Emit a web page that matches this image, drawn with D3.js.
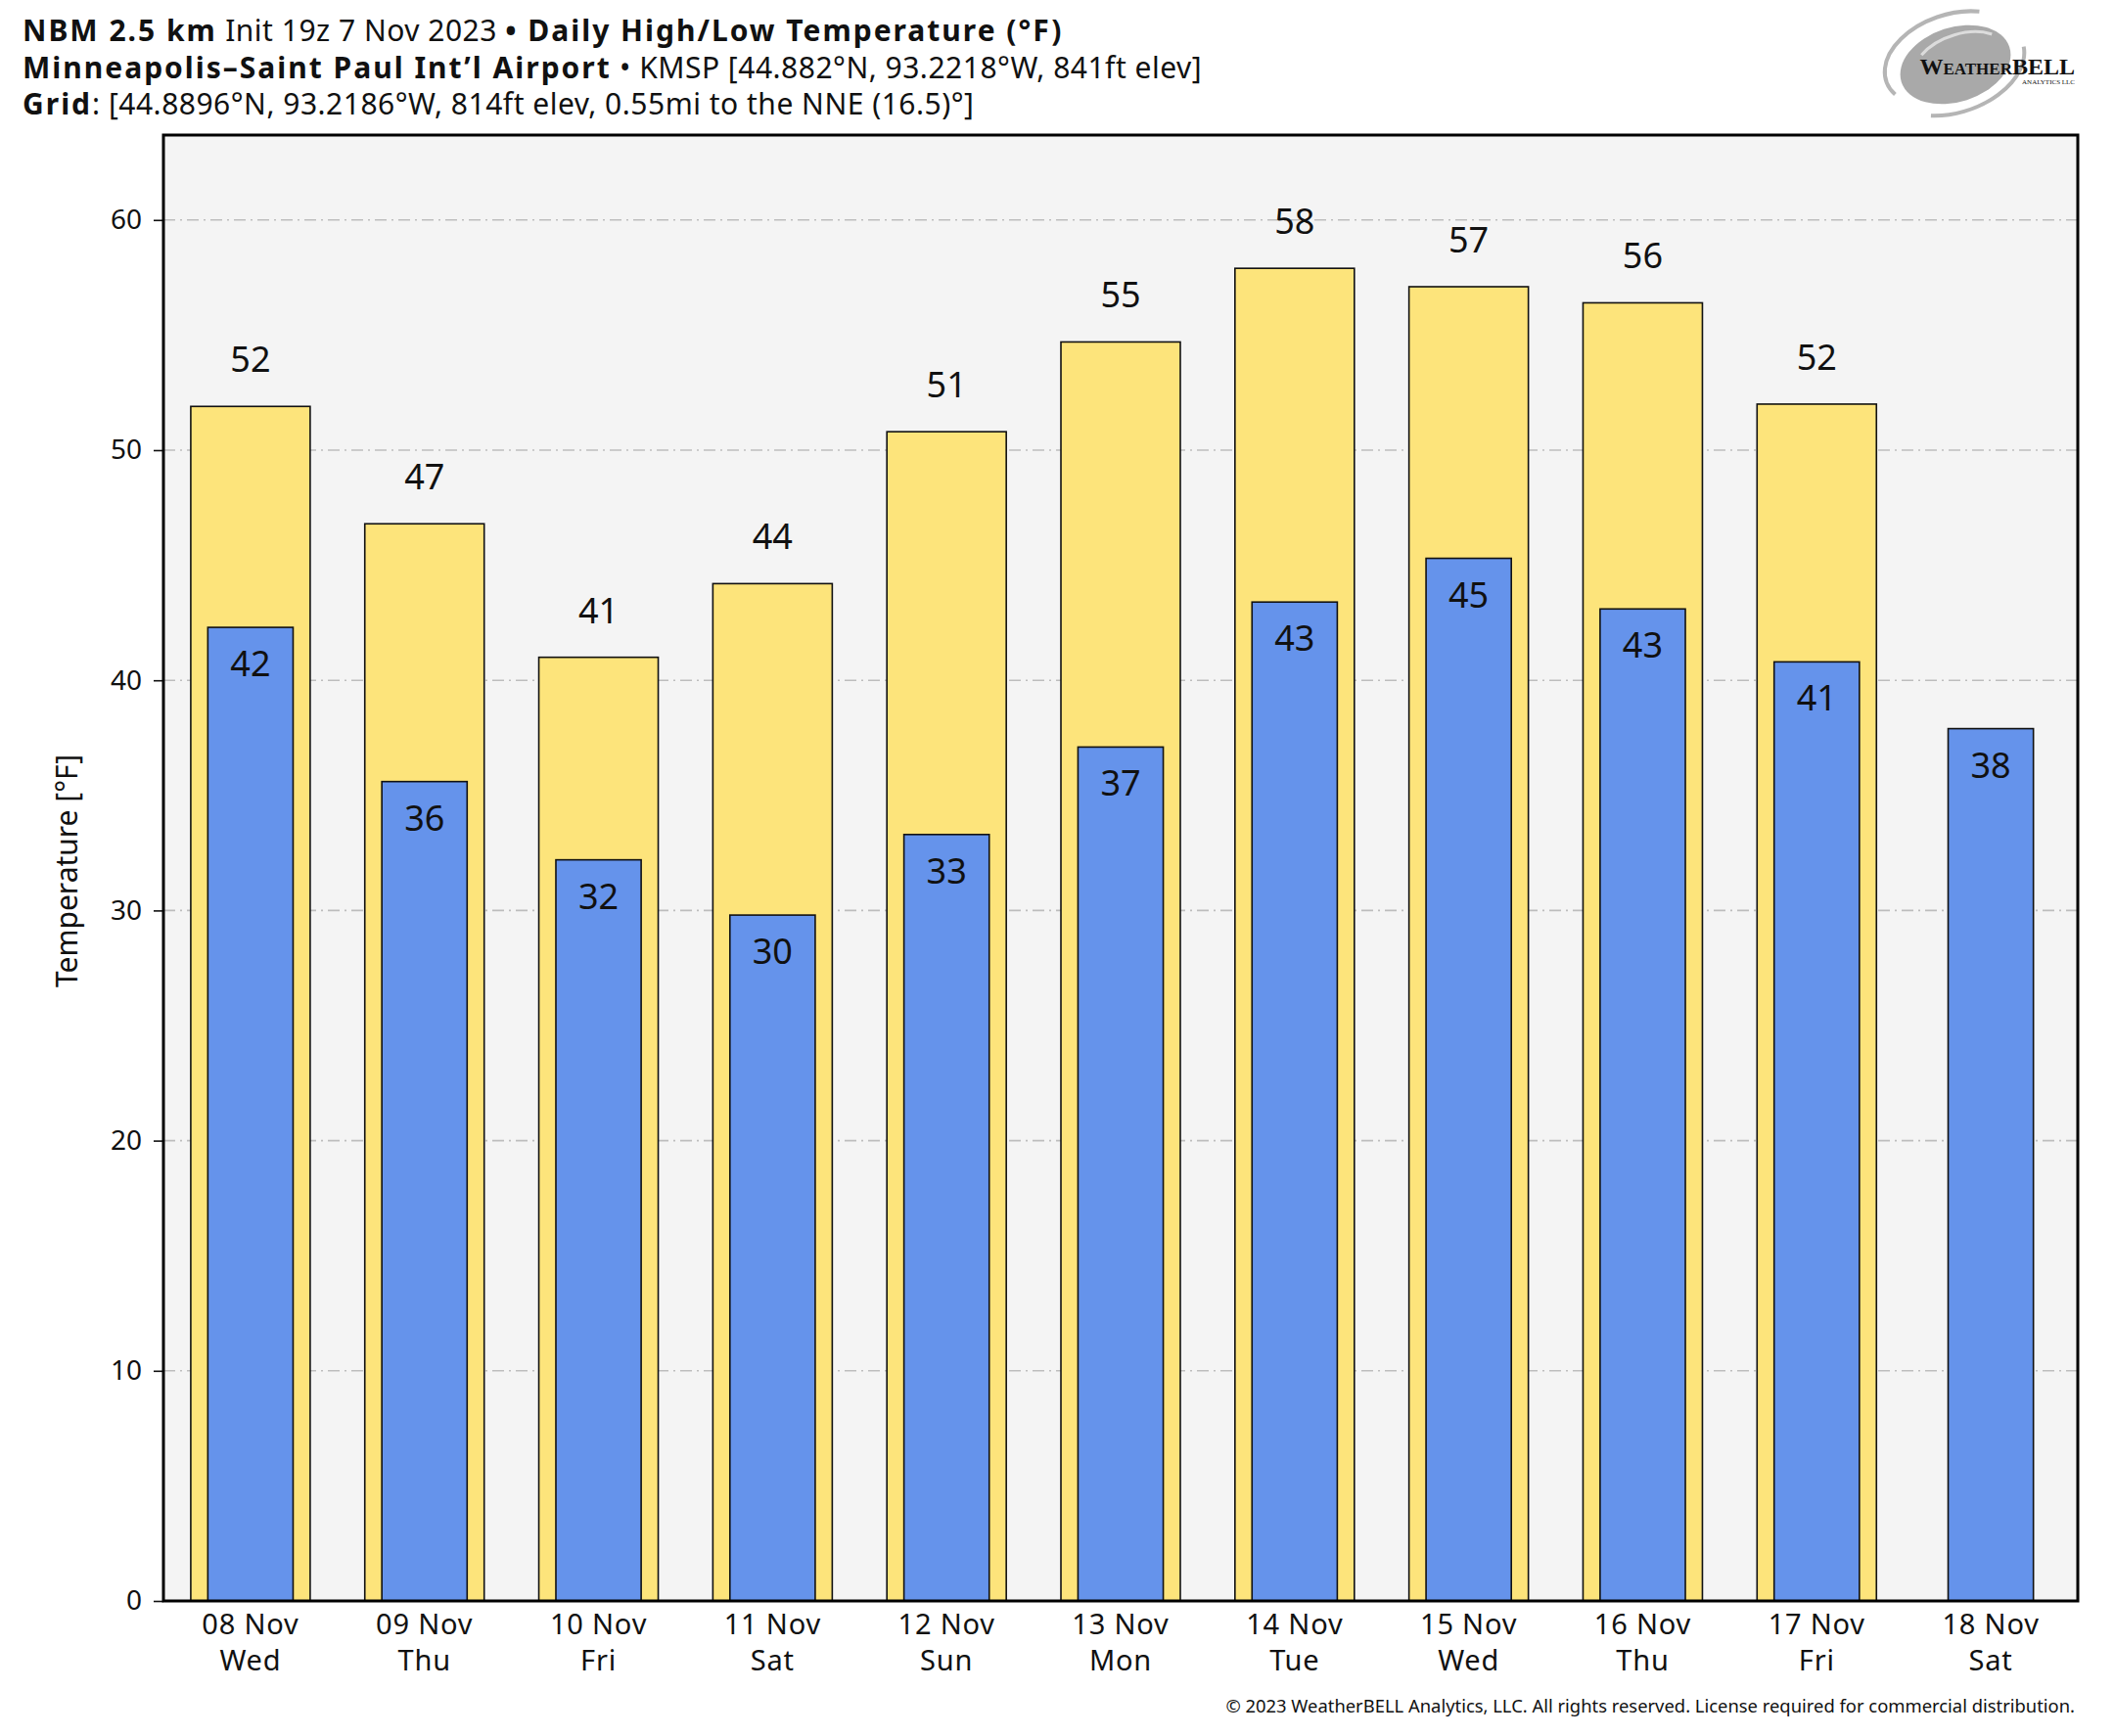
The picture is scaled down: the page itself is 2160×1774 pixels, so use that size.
<!DOCTYPE html>
<html>
<head>
<meta charset="utf-8">
<script src="https://cdn.jsdelivr.net/npm/d3@7"></script>
<style>
  body { margin: 0; background: #fff; }
  text { font-family: "Noto Sans", sans-serif; fill: #111; }
</style>
</head>
<body>
<div id="chart"></div>
<script>
// data
var dates = ["08 Nov", "09 Nov", "10 Nov", "11 Nov", "12 Nov", "13 Nov", "14 Nov", "15 Nov", "16 Nov", "17 Nov", "18 Nov"];
var weekdays = ["Wed", "Thu", "Fri", "Sat", "Sun", "Mon", "Tue", "Wed", "Thu", "Fri", "Sat"];
var highs = [51.9, 46.8, 41.0, 44.2, 50.8, 54.7, 57.9, 57.1, 56.4, 52.0, null];
var lows = [42.3, 35.6, 32.2, 29.8, 33.3, 37.1, 43.4, 45.3, 43.1, 40.8, 37.9];
var yTicks = [0, 10, 20, 30, 40, 50, 60];

var svgWidth = 2160;
var svgHeight = 1774;
var margin = { top: 138, right: 37, bottom: 138, left: 167 };
var width = svgWidth - margin.left - margin.right;
var height = 1636 - margin.top;

var svg = d3.select("#chart")
  .append("svg")
  .attr("width", svgWidth)
  .attr("height", svgHeight);

svg.append("rect")
  .attr("width", svgWidth)
  .attr("height", svgHeight)
  .attr("fill", "#fff");

var chartGroup = svg.append("g")
  .attr("transform", `translate(${margin.left}, ${margin.top})`);

// scales
var xScale = d3.scaleLinear()
  .domain([-0.5, dates.length - 0.5])
  .range([0, width]);
var yScale = d3.scaleLinear()
  .domain([0, d3.max(highs) * 1.1])
  .range([height, 0]);
var step = xScale(1) - xScale(0);
var highW = step * 0.686;
var lowW = step * 0.49;

// plot background
chartGroup.append("rect")
  .attr("width", width)
  .attr("height", height)
  .attr("fill", "#f4f4f4");

// dash-dot grid
chartGroup.append("g")
  .selectAll("line")
  .data(yTicks.filter(d => d > 0))
  .enter()
  .append("line")
  .attr("x1", 0)
  .attr("x2", width)
  .attr("y1", d => yScale(d))
  .attr("y2", d => yScale(d))
  .attr("stroke", "#bdbdbd")
  .attr("stroke-width", 1.6)
  .attr("stroke-dasharray", "12,5,2,5");

var idx = d3.range(dates.length);

// high bars
chartGroup.append("g")
  .selectAll("rect")
  .data(idx.filter(i => highs[i] != null))
  .enter()
  .append("rect")
  .attr("x", i => xScale(i) - highW / 2)
  .attr("y", i => yScale(highs[i]))
  .attr("width", highW)
  .attr("height", i => height - yScale(highs[i]))
  .attr("fill", "#fde47b")
  .attr("stroke", "#111")
  .attr("stroke-width", 1.6);

// low bars
chartGroup.append("g")
  .selectAll("rect")
  .data(idx)
  .enter()
  .append("rect")
  .attr("x", i => xScale(i) - lowW / 2)
  .attr("y", i => yScale(lows[i]))
  .attr("width", lowW)
  .attr("height", i => height - yScale(lows[i]))
  .attr("fill", "#6593eb")
  .attr("stroke", "#111")
  .attr("stroke-width", 1.6);

// value labels
chartGroup.append("g")
  .selectAll("text")
  .data(idx.filter(i => highs[i] != null))
  .enter()
  .append("text")
  .attr("x", i => xScale(i))
  .attr("y", i => yScale(highs[i]) - 35)
  .attr("text-anchor", "middle")
  .style("font-size", "36px")
  .text(i => Math.round(highs[i]));

chartGroup.append("g")
  .selectAll("text")
  .data(idx)
  .enter()
  .append("text")
  .attr("x", i => xScale(i))
  .attr("y", i => yScale(lows[i]) + 50)
  .attr("text-anchor", "middle")
  .style("font-size", "36px")
  .text(i => Math.round(lows[i]));

// axes
var leftAxis = d3.axisLeft(yScale)
  .tickValues(yTicks)
  .tickSize(10)
  .tickPadding(12);
var yAxis = chartGroup.append("g").call(leftAxis);
yAxis.select(".domain").remove();
yAxis.selectAll("line").attr("stroke", "#111").attr("stroke-width", 1.6);
yAxis.selectAll("text")
  .style("font-size", "28px")
  .style("font-family", "Noto Sans")
  .attr("fill", "#111");

var xLabels = chartGroup.append("g")
  .attr("transform", `translate(0, ${height})`);
xLabels.selectAll("text.date")
  .data(idx)
  .enter()
  .append("text")
  .attr("class", "date")
  .attr("x", i => xScale(i))
  .attr("y", 34)
  .attr("text-anchor", "middle")
  .style("font-size", "29px")
  .style("letter-spacing", "0.8px")
  .text(i => dates[i]);
xLabels.selectAll("text.wd")
  .data(idx)
  .enter()
  .append("text")
  .attr("class", "wd")
  .attr("x", i => xScale(i))
  .attr("y", 71)
  .attr("text-anchor", "middle")
  .style("font-size", "29px")
  .style("letter-spacing", "0.8px")
  .text(i => weekdays[i]);

// frame
chartGroup.append("rect")
  .attr("width", width)
  .attr("height", height)
  .attr("fill", "none")
  .attr("stroke", "#000")
  .attr("stroke-width", 3);

// y label
chartGroup.append("text")
  .attr("transform", "rotate(-90)")
  .attr("x", -752)
  .attr("y", -margin.left + 79)
  .attr("text-anchor", "middle")
  .style("font-size", "30px")
  .text("Temperature [°F]");

// title block
var titleLines = [
  [["NBM 2.5 km", true], [" Init 19z 7 Nov 2023 ", false], ["• Daily High/Low Temperature (°F)", true]],
  [["Minneapolis–Saint Paul Int’l Airport", true], [" • KMSP [44.882°N, 93.2218°W, 841ft elev]", false]],
  [["Grid", true], [": [44.8896°N, 93.2186°W, 814ft elev, 0.55mi to the NNE (16.5)°]", false]]
];
titleLines.forEach(function(parts, li) {
  var t = svg.append("text")
    .attr("x", 23)
    .attr("y", 42 + li * 37.5)
    .style("font-size", "30px");
  parts.forEach(function(p) {
    t.append("tspan")
      .attr("font-weight", p[1] ? "bold" : "normal")
      .style("letter-spacing", p[1] ? "2px" : "0.5px")
      .text(p[0]);
  });
});

// copyright
svg.append("text")
  .attr("x", 2120)
  .attr("y", 1750)
  .attr("text-anchor", "end")
  .style("font-size", "18.4px")
  .attr("fill", "#222")
  .text("© 2023 WeatherBELL Analytics, LLC. All rights reserved. License required for commercial distribution.");

// logo
var logo = svg.append("g").attr("transform", "translate(1998, 66) rotate(-18)");
logo.append("ellipse")
  .attr("rx", 58).attr("ry", 38)
  .attr("fill", "#a9a9a9");
logo.append("path")
  .attr("d", "M -68 10 A 72 46 0 0 1 40 -44")
  .attr("fill", "none").attr("stroke", "#b5b5b5").attr("stroke-width", 4);
logo.append("path")
  .attr("d", "M -40 42 A 75 48 0 0 0 72 4")
  .attr("fill", "none").attr("stroke", "#b5b5b5").attr("stroke-width", 4);
logo.append("path")
  .attr("d", "M -30 -20 A 50 30 0 0 1 45 -18")
  .attr("fill", "none").attr("stroke", "#dcdcdc").attr("stroke-width", 3);
var brand = svg.append("text")
  .attr("x", 2120)
  .attr("y", 76)
  .attr("text-anchor", "end")
  .style("font-family", "Liberation Serif")
  .style("font-weight", "bold")
  .attr("fill", "#555");
brand.append("tspan").style("font-size", "24px").text("W");
brand.append("tspan").style("font-size", "17px").text("EATHER");
brand.append("tspan").style("font-size", "24px").text("BELL");
svg.append("text")
  .attr("x", 2120)
  .attr("y", 86)
  .attr("text-anchor", "end")
  .style("font-family", "Liberation Serif")
  .style("font-size", "7px")
  .attr("fill", "#666")
  .text("ANALYTICS LLC");
</script>
</body>
</html>
